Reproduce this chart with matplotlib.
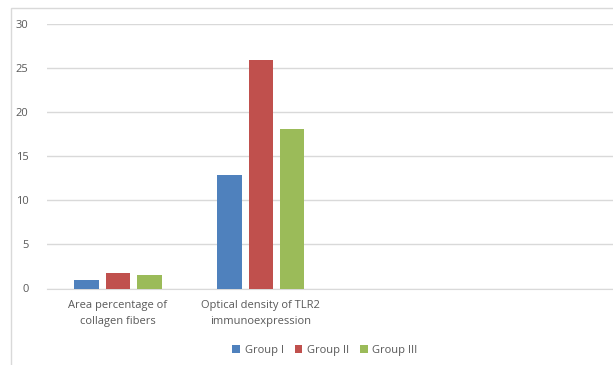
import matplotlib
matplotlib.use("Agg")
import matplotlib.pyplot as plt
from matplotlib.patches import Rectangle
import numpy as np

categories = ["Area percentage of\ncollagen fibers", "Optical density of TLR2\nimmunoexpression", "", ""]
groups = ["Group I", "Group II", "Group III"]
group1 = [0.95, 12.8, np.nan, np.nan]
group2 = [1.8, 25.9, np.nan, np.nan]
group3 = [1.55, 18.1, np.nan, np.nan]
colors = ["#4F81BD", "#C0504D", "#9BBB59"]

plt.rcParams['font.family'] = ['Open Sans', 'DejaVu Sans']
txt = "#595959"

fig = plt.figure(figsize=(6.13, 3.65), dpi=100)
W, H = 613, 365
ax = fig.add_axes([46.5 / W, 76.5 / H, (618 - 46.5) / W, 265 / H])

# chart border, runs off the right and bottom of the picture
fig.patches.append(Rectangle((11 / W, -0.1), 1.2, (H - 8) / H + 0.1, transform=fig.transFigure,
                             fill=False, edgecolor="#D9D9D9", linewidth=1))

x = np.arange(len(categories))
for i, (vals, c) in enumerate(zip([group1, group2, group3], colors)):
    ax.bar(x + (i - 1) * 0.22, vals, width=0.17, color=c, label=groups[i], zorder=3)

ax.set_xlim(-0.5, len(categories) - 0.5)
ax.set_ylim(0, 30)
ax.set_yticks(range(0, 31, 5))
ax.yaxis.grid(True, color="#D9D9D9", linewidth=1, zorder=0)
for s in ["top", "right", "left"]:
    ax.spines[s].set_visible(False)
ax.spines["bottom"].set_color("#D9D9D9")
ax.set_xticks(x)
ax.set_xticklabels(categories, fontsize=8, color=txt, linespacing=1.7)
ax.tick_params(axis="x", length=0, pad=8)
ax.tick_params(axis="y", length=0, pad=13, labelsize=8, labelcolor=txt)

leg = fig.legend(loc="center", bbox_to_anchor=(325 / W, 1 - 350 / H), ncol=3, frameon=False,
                 fontsize=8, handlelength=0.7, handleheight=0.7, handletextpad=0.4, columnspacing=1.0)
for t in leg.get_texts():
    t.set_color(txt)

fig.savefig("out.png", dpi=100)
